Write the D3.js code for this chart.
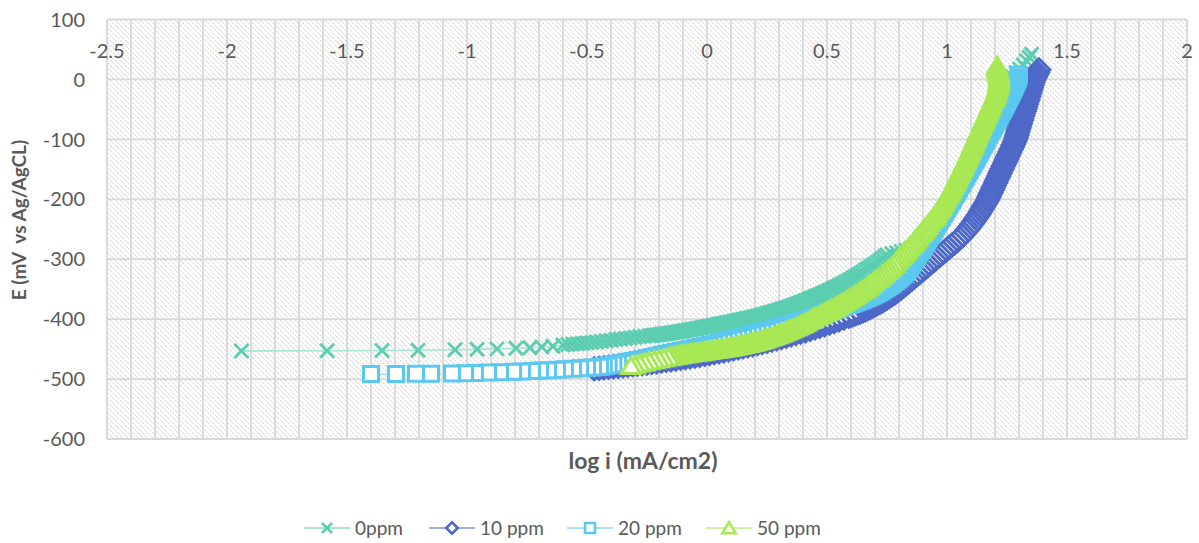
<!DOCTYPE html>
<html>
<head>
<meta charset="utf-8">
<script src="https://cdn.jsdelivr.net/npm/d3@7"></script>
<style>
  html, body { margin: 0; padding: 0; background: #fff; }
  svg text { font-family: Lato, "Open Sans", sans-serif; }
</style>
</head>
<body>
<svg id="chart" width="1199" height="543"></svg>
<script>
// ---- Axis ticks ----
const xTickValues = [-2.5, -2, -1.5, -1, -0.5, 0, 0.5, 1, 1.5, 2];
const xTickLabels = ["-2.5", "-2", "-1.5", "-1", "-0.5", "0", "0.5", "1", "1.5", "2"];
const yTickValues = [100, 0, -100, -200, -300, -400, -500, -600];
const yTickLabels = ["100", "0", "-100", "-200", "-300", "-400", "-500", "-600"];

// ---- Series names ----
const seriesNames = ["0ppm", "10 ppm", "20 ppm", "50 ppm"];

// ---- Polarization data: [log i (mA/cm2), E (mV vs Ag/AgCl)] ----
const data0ppm = [
  [-1.94,-453.0],[-1.583,-452.7],[-1.354,-452.3],[-1.204,-451.8],[-1.05,-451.1],[-0.958,-450.4],[-0.875,-449.6],[-0.796,-448.7],
  [-0.738,-447.7],[-0.688,-446.6],[-0.642,-445.4],[-0.6,-443.3],[-0.58,-442.4],
  [-0.56,-441.5],[-0.54,-440.9],[-0.52,-440.3],[-0.5,-439.6],[-0.48,-438.9],[-0.46,-438.0],[-0.44,-437.1],[-0.42,-436.1],
  [-0.4,-435.1],[-0.38,-434.1],[-0.36,-433.1],[-0.34,-432.2],[-0.32,-431.3],[-0.3,-430.4],[-0.28,-429.5],[-0.26,-428.6],[-0.24,-427.7],
  [-0.23,-427.3],[-0.22,-426.8],[-0.21,-426.4],[-0.2,-425.9],[-0.19,-425.4],[-0.18,-424.8],[-0.17,-424.2],[-0.16,-423.6],
  [-0.15,-423.0],[-0.14,-422.4],[-0.13,-421.8],[-0.12,-421.1],[-0.11,-420.5],[-0.1,-419.8],[-0.09,-419.1],[-0.08,-418.4],
  [-0.07,-417.7],[-0.06,-417.0],[-0.05,-416.3],[-0.04,-415.6],[-0.03,-414.9],[-0.02,-414.1],[-0.01,-413.4],[0,-412.6],
  [0.01,-411.8],[0.02,-411.0],[0.03,-410.2],[0.04,-409.4],[0.05,-408.6],[0.06,-407.8],[0.07,-407.0],[0.08,-406.2],
  [0.09,-405.4],[0.1,-404.6],[0.11,-403.8],[0.12,-402.9],[0.13,-402.1],[0.14,-401.2],[0.15,-400.4],[0.16,-399.5],
  [0.17,-398.6],[0.18,-397.7],[0.19,-396.8],[0.2,-395.8],[0.21,-394.8],[0.22,-393.8],[0.23,-392.8],[0.24,-391.7],
  [0.25,-390.6],[0.26,-389.5],[0.27,-388.4],[0.28,-387.2],[0.29,-386.0],[0.3,-384.8],[0.31,-383.6],[0.32,-382.3],
  [0.33,-381.0],[0.34,-379.6],[0.35,-378.2],[0.36,-376.8],[0.37,-375.3],[0.38,-373.8],[0.39,-372.3],[0.4,-370.8],
  [0.41,-369.2],[0.42,-367.6],[0.43,-366.0],[0.44,-364.4],[0.45,-362.7],[0.46,-361.0],[0.47,-359.3],[0.48,-357.5],
  [0.49,-355.7],[0.5,-353.9],[0.51,-352.0],[0.52,-350.1],[0.53,-348.2],[0.54,-346.2],[0.55,-344.2],[0.56,-342.1],
  [0.57,-340.0],[0.58,-337.8],[0.59,-335.6],[0.6,-333.3],[0.61,-331.0],[0.62,-328.6],[0.63,-326.2],[0.64,-323.7],
  [0.65,-321.2],[0.66,-318.6],[0.67,-316.0],[0.68,-313.3],[0.69,-310.6],[0.7,-307.8],[0.71,-304.9],[0.72,-302.0],
  [0.73,-299.0],[0.74,-296.0],
  [0.75,-293],[0.77,-291],[0.79,-289],[0.81,-287],[0.83,-285],[0.85,-282],[0.87,-278],[0.89,-273],[0.91,-267],
  [0.928,-261],[0.944,-254],[0.958,-247],[0.971,-240],[0.983,-233],[0.994,-226],[1.005,-218],[1.016,-210],[1.027,-202],
  [1.037,-194],[1.047,-186],[1.057,-178],[1.067,-170],[1.077,-162],[1.087,-154],[1.097,-146],[1.107,-138],[1.116,-130],
  [1.125,-122],[1.134,-114],[1.143,-106],[1.152,-98],[1.161,-90],[1.17,-82],[1.179,-74],[1.188,-66],[1.197,-58],
  [1.206,-50],[1.215,-42],[1.224,-34],[1.233,-26],[1.242,-18],[1.251,-10],[1.26,-2],[1.272,5],[1.288,11],
  [1.303,17],[1.318,24],[1.332,31],[1.343,37],[1.352,42]
];

const data10ppm = [
  [-0.47,-482.8],[-0.45,-482.0],[-0.43,-481.2],[-0.41,-480.4],[-0.39,-479.6],[-0.37,-478.8],[-0.35,-477.9],[-0.33,-477.0],
  [-0.31,-476.1],[-0.29,-475.2],[-0.27,-474.2],[-0.25,-473.2],[-0.23,-472.2],[-0.21,-471.2],[-0.19,-470.1],[-0.17,-469.0],
  [-0.15,-467.9],[-0.13,-466.7],[-0.11,-465.5],[-0.09,-464.3],[-0.07,-463.0],[-0.05,-461.7],[-0.03,-460.3],[-0.01,-458.9],
  [0.01,-457.5],[0.03,-456.0],[0.05,-454.5],[0.07,-453.0],[0.09,-451.4],[0.11,-449.8],[0.13,-448.1],[0.15,-446.4],
  [0.17,-444.6],[0.19,-442.8],[0.21,-440.9],[0.23,-439.0],[0.25,-437.0],[0.27,-435.0],[0.29,-432.9],[0.31,-430.8],
  [0.33,-428.6],[0.35,-426.4],[0.37,-424.1],[0.39,-421.8],[0.41,-419.4],[0.43,-417.0],[0.45,-414.5],[0.47,-412.0],
  [0.49,-409.4],[0.51,-406.8],[0.53,-404.1],[0.55,-401.3],[0.57,-398.4],[0.59,-395.4],
  [0.6,-393.8],[0.61,-392.3],[0.62,-390.8],[0.63,-389.3],[0.64,-387.7],[0.65,-386.1],[0.66,-384.4],[0.67,-382.6],
  [0.68,-380.6],[0.69,-378.4],[0.7,-376.4],[0.71,-374.3],[0.72,-372.1],[0.73,-369.8],[0.74,-367.4],[0.75,-364.9],
  [0.76,-362.3],[0.77,-359.6],[0.78,-356.8],[0.79,-353.9],[0.8,-350.9],[0.81,-347.8],[0.82,-344.6],[0.83,-341.3],
  [0.843,-337],[0.855,-333],[0.866,-329],[0.878,-325],[0.89,-321],[0.902,-317],[0.913,-313],[0.925,-309],[0.937,-305],
  [0.949,-301],[0.96,-297],[0.972,-293],[0.984,-289],[0.996,-285],[1.007,-281],[1.019,-277],[1.031,-273],[1.043,-269],
  [1.053,-265],[1.063,-261],[1.072,-257],[1.081,-253],[1.089,-249],[1.097,-245],[1.105,-241],[1.112,-237],[1.119,-233],
  [1.126,-229],[1.133,-225],[1.139,-221],[1.145,-217],[1.151,-213],[1.157,-209],[1.163,-205],[1.169,-201],[1.174,-197],
  [1.178,-193],[1.183,-189],[1.188,-185],[1.192,-181],[1.197,-177],[1.202,-173],[1.206,-169],[1.211,-165],[1.216,-161],
  [1.22,-157],[1.225,-153],[1.23,-149],[1.234,-145],[1.239,-141],[1.244,-137],[1.248,-133],[1.253,-129],[1.258,-125],
  [1.262,-121],[1.267,-117],[1.272,-113],[1.276,-109],[1.281,-105],[1.285,-101],[1.288,-97],[1.291,-93],[1.294,-89],
  [1.297,-85],[1.3,-81],[1.303,-77],[1.306,-73],[1.309,-69],[1.312,-65],[1.315,-61],[1.318,-57],[1.322,-53],
  [1.325,-49],[1.328,-45],[1.331,-41],[1.334,-37],[1.337,-33],[1.34,-29],[1.343,-25],[1.346,-21],[1.349,-17],
  [1.352,-13],[1.355,-9],[1.358,-5],[1.362,-1],[1.367,3],[1.372,7],[1.377,11],[1.383,16]
];

const data20ppm = [
  [-1.4,-491.7],[-1.296,-491.5],[-1.2125,-491.3],[-1.15,-491.0],[-1.0625,-490.6],[-1.008,-490.2],[-0.967,-489.8],
  [-0.9125,-489.2],[-0.8625,-488.6],[-0.808,-487.9],[-0.771,-487.3],[-0.729,-486.6],[-0.696,-485.9],[-0.6625,-485.2],
  [-0.625,-484.4],[-0.592,-483.6],[-0.558,-482.8],[-0.529,-482.0],[-0.5,-481.2],[-0.475,-480.5],[-0.446,-479.6],
  [-0.43,-478.8],[-0.41,-477.3],[-0.39,-475.8],[-0.37,-474.3],[-0.35,-472.8],[-0.33,-471.3],[-0.31,-469.7],[-0.29,-468.1],
  [-0.27,-466.4],[-0.25,-464.7],[-0.23,-463.0],[-0.21,-461.3],[-0.19,-459.6],[-0.17,-457.9],[-0.15,-456.2],[-0.13,-454.6],
  [-0.11,-453.0],[-0.09,-451.4],[-0.07,-449.8],[-0.05,-448.2],[-0.03,-446.6],[-0.01,-444.9],[0.01,-443.1],[0.03,-441.3],
  [0.05,-439.5],[0.07,-437.6],[0.09,-435.7],[0.11,-433.7],[0.13,-431.7],[0.15,-429.7],[0.17,-427.7],[0.19,-425.7],
  [0.21,-423.7],[0.23,-421.7],[0.25,-419.6],[0.27,-417.5],[0.29,-415.3],[0.31,-413.1],[0.33,-410.7],[0.35,-408.3],
  [0.37,-405.9],[0.39,-403.4],[0.41,-400.9],[0.43,-398.3],[0.45,-395.7],[0.47,-393.1],[0.49,-390.5],[0.51,-387.9],
  [0.53,-385.2],[0.55,-382.4],[0.57,-379.5],[0.59,-376.6],
  [0.6,-375.2],[0.61,-373.7],[0.62,-372.2],[0.63,-370.7],[0.64,-369.2],[0.65,-367.6],[0.66,-366.0],[0.67,-364.3],
  [0.68,-362.5],[0.69,-360.7],[0.7,-358.7],[0.71,-356.7],[0.72,-354.5],[0.73,-352.3],[0.74,-349.8],[0.75,-347.3],
  [0.76,-344.5],[0.77,-341.7],[0.78,-338.6],[0.79,-335.5],[0.8,-332.1],[0.81,-328.7],[0.82,-325.0],[0.83,-321.3],
  [0.838,-317],[0.845,-313],[0.852,-309],[0.859,-305],[0.866,-301],[0.873,-297],[0.879,-293],[0.886,-289],[0.892,-285],
  [0.899,-281],[0.905,-277],[0.912,-273],[0.918,-269],[0.924,-265],[0.931,-261],[0.937,-257],[0.943,-253],[0.949,-249],
  [0.955,-245],[0.961,-241],[0.967,-237],[0.973,-233],[0.979,-229],[0.985,-225],[0.991,-221],[0.997,-217],[1.003,-213],
  [1.009,-209],[1.015,-205],[1.021,-201],[1.027,-197],[1.033,-193],[1.039,-189],[1.045,-185],[1.051,-181],[1.057,-177],
  [1.063,-173],[1.068,-169],[1.074,-165],[1.08,-161],[1.086,-157],[1.092,-153],[1.097,-149],[1.103,-145],[1.108,-141],
  [1.114,-137],[1.12,-133],[1.125,-129],[1.131,-125],[1.136,-121],[1.142,-117],[1.147,-113],[1.153,-109],[1.158,-105],
  [1.164,-101],[1.169,-97],[1.175,-93],[1.18,-89],[1.186,-85],[1.191,-81],[1.197,-77],[1.202,-73],[1.208,-69],
  [1.213,-65],[1.219,-61],[1.224,-57],[1.229,-53],[1.235,-49],[1.24,-45],[1.245,-41],[1.25,-37],[1.255,-33],
  [1.26,-29],[1.265,-25],[1.27,-21],[1.275,-17],[1.28,-13],[1.284,-9],[1.289,-5],[1.293,-1],[1.297,3],[1.3,8]
];

const data50ppm = [
  [-0.317,-478.2],[-0.3,-476.3],[-0.28,-474.2],[-0.26,-472.2],[-0.24,-470.3],[-0.22,-468.5],[-0.2,-466.8],[-0.18,-465.2],
  [-0.16,-463.6],[-0.15,-462.8],[-0.14,-462.0],[-0.13,-461.2],[-0.12,-460.5],[-0.11,-459.7],[-0.1,-458.9],[-0.09,-458.4],
  [-0.08,-457.8],[-0.07,-457.3],[-0.06,-456.7],[-0.05,-456.2],[-0.04,-455.6],[-0.03,-455.1],[-0.02,-454.5],[-0.01,-453.9],
  [0,-453.3],[0.01,-452.7],[0.02,-452.1],[0.03,-451.5],[0.04,-450.9],[0.05,-450.3],[0.06,-449.7],[0.07,-449.1],
  [0.08,-448.5],[0.09,-447.8],[0.1,-447.2],[0.11,-446.4],[0.12,-445.6],[0.13,-444.8],[0.14,-444.0],[0.15,-443.2],
  [0.16,-442.3],[0.17,-441.4],[0.18,-440.5],[0.19,-439.6],[0.2,-438.7],[0.21,-437.5],[0.22,-436.3],[0.23,-435.1],
  [0.24,-433.8],[0.25,-432.5],[0.26,-431.2],[0.27,-429.8],[0.28,-428.4],[0.29,-427.0],[0.3,-425.5],[0.31,-423.9],
  [0.32,-422.3],[0.33,-420.6],[0.34,-418.9],[0.35,-417.2],[0.36,-415.4],[0.37,-413.6],[0.38,-411.8],[0.39,-409.9],
  [0.4,-408.0],[0.41,-405.9],[0.42,-403.7],[0.43,-401.5],[0.44,-399.3],[0.45,-397.0],[0.46,-395.1],[0.47,-393.2],
  [0.48,-391.2],[0.49,-389.2],[0.5,-387.2],[0.51,-385.1],[0.52,-383.0],[0.53,-380.8],[0.54,-378.6],[0.55,-376.4],
  [0.56,-374.1],[0.57,-371.8],[0.58,-369.4],[0.59,-367.0],[0.6,-364.5],[0.61,-362.0],[0.62,-359.4],[0.63,-356.7],
  [0.64,-354.0],[0.65,-351.2],[0.66,-348.4],[0.67,-345.5],[0.68,-342.5],[0.69,-339.5],[0.7,-336.4],[0.71,-333.2],
  [0.72,-330.0],[0.73,-326.7],[0.74,-323.3],[0.75,-319.8],[0.76,-316.2],[0.77,-312.5],
  [0.78,-308],[0.789,-304],[0.798,-300],[0.807,-296],[0.816,-292],[0.825,-288],[0.834,-284],[0.843,-280],[0.851,-276],
  [0.86,-272],[0.868,-268],[0.876,-264],[0.884,-260],[0.893,-256],[0.901,-252],[0.909,-248],[0.917,-244],[0.925,-240],
  [0.933,-236],[0.941,-232],[0.948,-228],[0.955,-224],[0.962,-220],[0.969,-216],[0.975,-212],[0.981,-208],[0.987,-204],
  [0.993,-200],[0.999,-196],[1.005,-192],[1.01,-188],[1.016,-184],[1.021,-180],[1.026,-176],[1.032,-172],[1.037,-168],
  [1.042,-164],[1.047,-160],[1.052,-156],[1.057,-152],[1.062,-148],[1.067,-144],[1.071,-140],[1.076,-136],[1.081,-132],
  [1.086,-128],[1.09,-124],[1.095,-120],[1.099,-116],[1.104,-112],[1.108,-108],[1.113,-104],[1.117,-100],[1.121,-96],
  [1.126,-92],[1.13,-88],[1.135,-84],[1.139,-80],[1.144,-76],[1.148,-72],[1.153,-68],[1.157,-64],[1.162,-60],
  [1.166,-56],[1.171,-52],[1.175,-48],[1.18,-44],[1.184,-40],[1.189,-36],[1.193,-32],[1.198,-28],[1.202,-24],
  [1.206,-20],[1.209,-16],[1.212,-12],[1.214,-8],[1.216,-4],[1.217,0],[1.217,4],[1.216,8],[1.214,12],[1.212,16],
  [1.21,20],[1.209,23]
];

// ---- Layout ----
const plot = { left: 107, right: 1187, top: 19.5, bottom: 439 };
const svg = d3.select("#chart");

const x = d3.scaleLinear().domain([-2.5, 2]).range([plot.left, plot.right]);
const y = d3.scaleLinear().domain([-600, 100]).range([plot.bottom, plot.top]);

// dashed downward-diagonal hatch for the plot area
const defs = svg.append("defs");
const pat = defs.append("pattern")
  .attr("id", "hatch")
  .attr("patternUnits", "userSpaceOnUse")
  .attr("width", 5).attr("height", 5);
pat.append("rect").attr("width", 5).attr("height", 5).attr("fill", "#ffffff");
pat.append("path")
  .attr("d", "M0,0L5,5M-1,4L1,6M4,-1L6,1")
  .attr("stroke", "#d2d2d2")
  .attr("stroke-width", 1)
  .attr("stroke-dasharray", "2.4,0.9");

svg.append("rect")
  .attr("x", plot.left).attr("y", plot.top)
  .attr("width", plot.right - plot.left)
  .attr("height", plot.bottom - plot.top)
  .attr("fill", "url(#hatch)");

// gridlines: vertical every 0.1, horizontal every 100
const gridColor = "#d9d9d9";
const grid = svg.append("g");
grid.selectAll("line.v")
  .data(x.ticks(45))
  .enter().append("line")
  .attr("class", "v")
  .attr("x1", d => x(d)).attr("x2", d => x(d))
  .attr("y1", plot.top).attr("y2", plot.bottom)
  .attr("stroke", gridColor).attr("stroke-width", 1.8);
grid.selectAll("line.h")
  .data(yTickValues)
  .enter().append("line")
  .attr("class", "h")
  .attr("x1", plot.left).attr("x2", plot.right)
  .attr("y1", d => y(d)).attr("y2", d => y(d))
  .attr("stroke", gridColor).attr("stroke-width", 1.8);

// tick labels
const labelColor = "#595959";
svg.append("g").selectAll("text")
  .data(yTickValues)
  .enter().append("text")
  .attr("x", 85)
  .attr("y", d => y(d))
  .attr("dy", "0.36em")
  .attr("text-anchor", "end")
  .attr("font-size", 20)
  .attr("fill", labelColor)
  .text((d, i) => yTickLabels[i]);

svg.append("g").selectAll("text")
  .data(xTickValues)
  .enter().append("text")
  .attr("x", d => x(d))
  .attr("y", 58)
  .attr("text-anchor", "middle")
  .attr("font-size", 20)
  .attr("fill", labelColor)
  .text((d, i) => xTickLabels[i]);

// axis titles
svg.append("text")
  .attr("x", 643).attr("y", 469)
  .attr("text-anchor", "middle")
  .attr("font-size", 23).attr("font-weight", "bold")
  .attr("fill", labelColor)
  .text("log i (mA/cm2)");
svg.append("text")
  .attr("transform", "translate(26,220) rotate(-90)")
  .attr("text-anchor", "middle")
  .attr("font-size", 19).attr("font-weight", "bold")
  .attr("fill", labelColor)
  .style("white-space", "pre")
  .text("E (mV  vs Ag/AgCL)");

// ---- Marker shapes ----
function markerPath(kind, s) {
  if (kind === "x") return `M${-7*s},${-7*s}L${7*s},${7*s}M${-7*s},${7*s}L${7*s},${-7*s}`;
  if (kind === "diamond") return `M0,${-11*s}L${11*s},0L0,${11*s}L${-11*s},0Z`;
  if (kind === "square") return `M${-7.5*s},${-7.5*s}H${7.5*s}V${7.5*s}H${-7.5*s}Z`;
  return `M0,${-8.5*s}L${9.5*s},${7.5*s}L${-9.5*s},${7.5*s}Z`;
}

const series = [
  { name: seriesNames[0], pts: data0ppm,  kind: "x",        color: "#5ccdb0", line: "#a6e4d3", legendScale: 0.72 },
  { name: seriesNames[1], pts: data10ppm, kind: "diamond",  color: "#4e68c8", line: "#a3afe2", legendScale: 0.52 },
  { name: seriesNames[2], pts: data20ppm, kind: "square",   color: "#5ac8f0", line: "#ace1f7", legendScale: 0.66 },
  { name: seriesNames[3], pts: data50ppm, kind: "triangle", color: "#a8e854", line: "#cff3a3", legendScale: 0.7 }
];

const lineGen = d3.line().x(d => x(d[0])).y(d => y(d[1]));

// each sweep is plotted from its anodic end back toward the corrosion potential,
// so the low-current markers sit on top
const plotG = svg.append("g");
series.forEach(s => {
  const g = plotG.append("g");
  g.append("path")
    .attr("d", lineGen(s.pts))
    .attr("fill", "none")
    .attr("stroke", s.line)
    .attr("stroke-width", 1.6);
  g.selectAll("path.m")
    .data(s.pts.slice().reverse())
    .enter().append("path")
    .attr("class", "m")
    .attr("transform", d => `translate(${x(d[0])},${y(d[1])})`)
    .attr("d", markerPath(s.kind, 1))
    .attr("fill", s.kind === "x" ? "none" : "#ffffff")
    .attr("stroke", s.color)
    .attr("stroke-width", s.kind === "x" ? 2.8 : 3);
});

// ---- Legend ----
const legendX = [304, 429, 567, 706];
const legend = svg.append("g");
series.forEach((s, i) => {
  const lx = legendX[i], ly = 528;
  legend.append("line")
    .attr("x1", lx).attr("x2", lx + 46)
    .attr("y1", ly).attr("y2", ly)
    .attr("stroke", s.line).attr("stroke-width", 1.8);
  legend.append("path")
    .attr("transform", `translate(${lx + 23},${ly})`)
    .attr("d", markerPath(s.kind, s.legendScale))
    .attr("fill", s.kind === "x" ? "none" : "#ffffff")
    .attr("stroke", s.color)
    .attr("stroke-width", 2.6);
  legend.append("text")
    .attr("x", lx + 51).attr("y", ly)
    .attr("dy", "0.36em")
    .attr("font-size", 19)
    .attr("fill", labelColor)
    .text(s.name);
});
</script>
</body>
</html>
